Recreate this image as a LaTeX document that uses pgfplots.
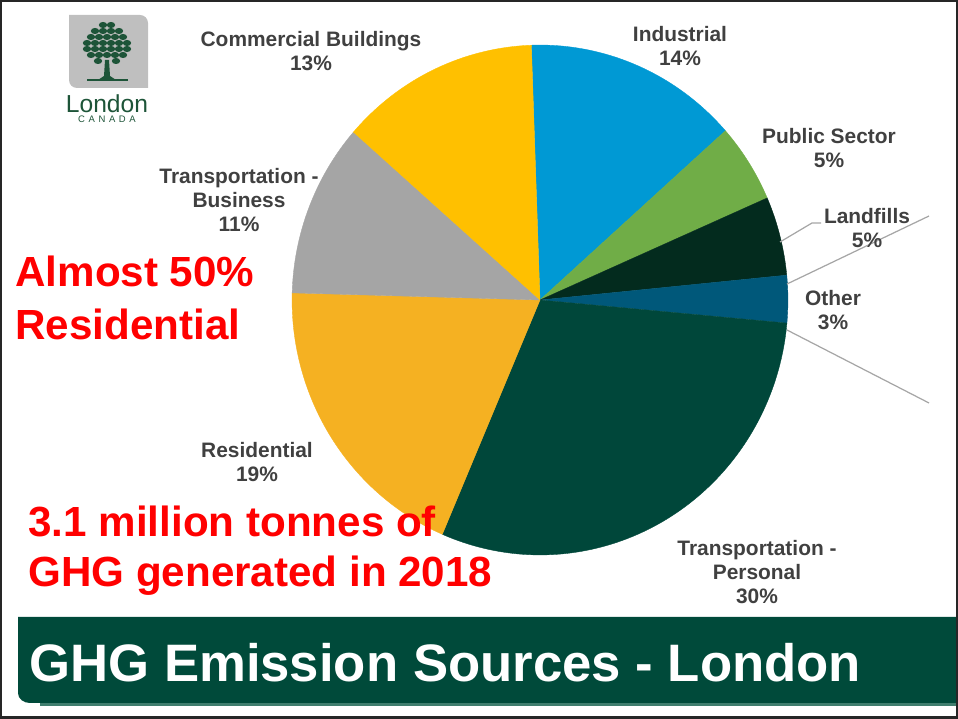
\documentclass[border=0pt]{standalone}
\usepackage{pgfplots}
\pgfplotsset{compat=1.18}
\usepackage{pgfplotstable}
\usepackage{fontspec}
\setmainfont{Liberation Sans}
\usetikzlibrary{calc}

% slice colours, clockwise from 12 o'clock
\definecolor{pc0}{HTML}{0099D4}% Industrial
\definecolor{pc1}{HTML}{70AD47}% Public Sector
\definecolor{pc2}{HTML}{032B1E}% Landfills
\definecolor{pc3}{HTML}{00587A}% Other
\definecolor{pc4}{HTML}{00473A}% Transportation - Personal
\definecolor{pc5}{HTML}{F5B122}% Residential
\definecolor{pc6}{HTML}{A5A5A5}% Transportation - Business
\definecolor{pc7}{HTML}{FFC000}% Commercial Buildings
\definecolor{labgray}{HTML}{404040}
\definecolor{leadgray}{HTML}{A6A6A6}
\definecolor{banner}{HTML}{004A3A}
\definecolor{bannerline}{HTML}{3F7E6E}
\definecolor{logogray}{HTML}{BFBFBF}
\definecolor{treegreen}{HTML}{1D5438}

\tikzset{lab/.style={font=\bfseries\fontsize{11.9}{13.6}\selectfont,
    text=labgray, align=center, inner sep=0pt},
  red note/.style={anchor=base west, inner sep=0pt, text=red,
    font=\bfseries\fontsize{24}{28}\selectfont}}

\pgfplotstableread[col sep=comma]{
sector,value
Industrial,14
Public Sector,5
Landfills,5
Other,3
Transportation - Personal,30
Residential,19
Transportation - Business,11
Commercial Buildings,13
}\piedata

\begin{document}
\begin{tikzpicture}
% start and end angle of each slice
\def\cum{92}%
\foreach \i in {0,...,7}{%
  \pgfplotstablegetelem{\i}{value}\of\piedata
  \pgfmathsetmacro\nx{\cum-3.6*\pgfplotsretval}%
  \expandafter\xdef\csname pa\i\endcsname{\cum}%
  \expandafter\xdef\csname pb\i\endcsname{\nx}%
  \xdef\cum{\nx}%
}%
\begin{axis}[
    x=0.02cm, y=0.02cm,
    xmin=0, xmax=958,
    ymin=0, ymax=719,
    y dir=reverse,
    hide axis,
    clip=false,
]
\pgfplotsinvokeforeach{0,...,7}{
  \filldraw[fill=pc#1, draw=pc#1, line width=0.2pt]
    (axis cs:540,300) --
    ($(axis cs:540,300)+(\csname pa#1\endcsname:4.96cm and 5.1cm)$)
    arc[start angle=\csname pa#1\endcsname, end angle=\csname pb#1\endcsname,
        x radius=4.96cm, y radius=5.1cm] -- cycle;
}

% leader lines
\draw[leadgray, line width=0.7pt] (axis cs:780,242) -- (axis cs:812,223) -- (axis cs:821,223);
\draw[leadgray, line width=0.7pt] (axis cs:787,284) -- (axis cs:929,216);
\draw[leadgray, line width=0.7pt] (axis cs:787,330) -- (axis cs:929,403);

\node[lab] at (axis cs:311,51) {Commercial Buildings\\13\%};
\node[lab] at (axis cs:680,46) {Industrial\\14\%};
\node[lab] at (axis cs:829,148) {Public Sector\\5\%};
\node[lab] at (axis cs:867,228) {Landfills\\5\%};
\node[lab] at (axis cs:833,310) {Other\\3\%};
\node[lab] at (axis cs:239,200) {Transportation -\\Business\\11\%};
\node[lab] at (axis cs:257,462) {Residential\\19\%};
\node[lab] at (axis cs:757,572) {Transportation -\\Personal\\30\%};

% logo
\fill[logogray] (axis cs:69,15) -- (axis cs:140,15) to[out=0,in=90] (axis cs:148,23)
    -- (axis cs:148,88) -- (axis cs:77,88) to[out=180,in=-90] (axis cs:69,80) -- cycle;
\addplot[only marks, mark=*, mark size=1.5pt, color=treegreen,
    mark options={xscale=1.45}] coordinates {
  (103,25)(111,25)
  (95,31)(103,31)(111,31)(119,31)
  (91,37)(99,37)(107,37)(115,37)(123,37)
  (87,43)(95,43)(103,43)(111,43)(119,43)(127,43)
  (87,49)(95,49)(103,49)(111,49)(119,49)(127,49)
  (91,55)(99,55)(107,55)(115,55)(123,55)
  (98,61)(116,61)
};
\fill[treegreen] (axis cs:105,60) -- (axis cs:109,60) -- (axis cs:110,76) -- (axis cs:116,80)
    -- (axis cs:98,80) -- (axis cs:104,76) -- cycle;
\fill[treegreen] (axis cs:87,79) rectangle (axis cs:128,81);
\node[anchor=base, text=treegreen, font=\fontsize{14}{16}\selectfont, inner sep=0pt]
    at (axis cs:107,113) {London};
\node[anchor=base, text=treegreen, font=\fontsize{5.4}{6}\selectfont, inner sep=0pt]
    at (axis cs:107,123) {C\hspace{0.38em}A\hspace{0.38em}N\hspace{0.38em}A\hspace{0.38em}D\hspace{0.38em}A};

% red notes
\node[red note] at (axis cs:15,287) {Almost 50\%};
\node[red note] at (axis cs:15,340) {Residential};
\node[red note] at (axis cs:28,537) {3.1 million tonnes of};
\node[red note] at (axis cs:28,587) {GHG generated in 2018};

% title banner
\fill[banner] (axis cs:958,617) -- (axis cs:18,617) -- (axis cs:18,693)
    to[out=-90,in=180] (axis cs:30,703) -- (axis cs:958,703) -- cycle;
\fill[bannerline] (axis cs:40,703) rectangle (axis cs:958,706);
\node[anchor=base west, inner sep=0pt, text=white,
    font=\bfseries\fontsize{30}{34}\selectfont] at (axis cs:29,682)
    {GHG Emission Sources - London};

% frame
\draw[black!85, line width=0.05cm] (axis cs:1.25,1.25) rectangle (axis cs:956.75,717.75);
\coordinate (bbtl) at (axis cs:0,0);
\coordinate (bbbr) at (axis cs:958,719);
\end{axis}
\pgfresetboundingbox
\useasboundingbox (bbtl) rectangle (bbbr);
\end{tikzpicture}
\end{document}
